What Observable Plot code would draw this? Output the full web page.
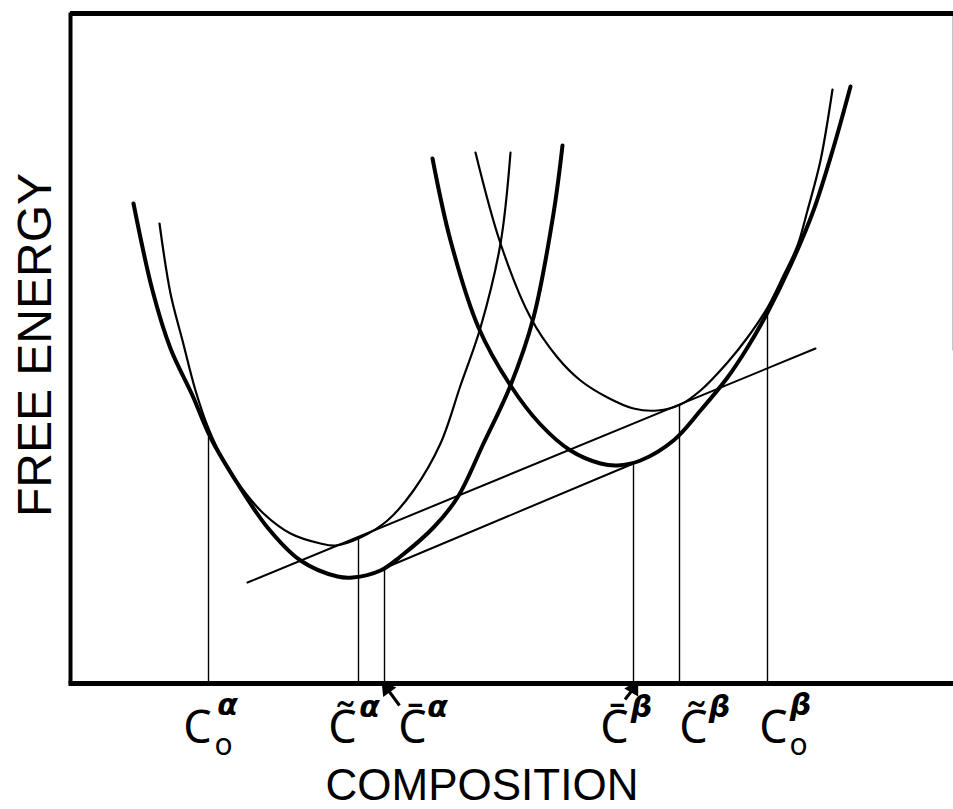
<!DOCTYPE html>
<html><head><meta charset="utf-8">
<script src="https://cdn.jsdelivr.net/npm/d3@7"></script>
<script src="https://cdn.jsdelivr.net/npm/@observablehq/plot@0.6"></script>
<style>body{margin:0;background:#fff}svg{display:block}</style>
</head><body><div id="chart"></div>
<script>
// Free-energy curves (composition, free energy in arbitrary units)
const alphaThickComp = [6.3, 8.2, 10.0, 12.2, 14.0, 16.7, 19.7, 23.0, 26.7, 28.2, 31.0, 33.0, 36.3, 38.7, 41.3, 44.0, 46.3, 48.3, 49.2];
const alphaThickG    = [48.0, 39.3, 33.5, 28.8, 24.6, 20.0, 15.6, 12.3, 10.7, 10.6, 11.3, 12.7, 15.6, 18.6, 24.0, 29.8, 36.6, 47.0, 53.8];
const alphaThinComp  = [8.9, 10.0, 11.2, 12.5, 13.8, 15.2, 17.0, 19.3, 22.0, 25.0, 26.5, 29.0, 31.7, 34.3, 37.0, 39.0, 41.0, 43.0, 44.0];
const alphaThinG     = [46.0, 39.0, 34.3, 29.3, 25.5, 22.5, 19.7, 17.0, 15.0, 14.0, 13.8, 14.6, 16.3, 19.3, 24.0, 29.8, 35.6, 44.0, 53.1];
const betaThickComp  = [36.2, 38.0, 40.8, 44.0, 47.0, 50.0, 53.0, 54.7, 57.0, 60.3, 63.0, 65.7, 67.7, 69.7, 72.0, 74.3, 76.3, 78.0];
const betaThickG     = [52.5, 44.3, 35.6, 29.8, 25.9, 23.3, 22.0, 21.8, 22.3, 24.3, 27.3, 30.6, 33.6, 37.1, 41.8, 47.3, 53.6, 59.7];
const betaThinComp   = [40.5, 43.0, 46.0, 48.7, 51.0, 53.7, 56.3, 58.7, 61.0, 63.0, 65.7, 67.7, 69.7, 71.3, 72.7, 73.7, 75.0, 76.2];
const betaThinG      = [53.1, 44.0, 36.6, 32.6, 30.3, 28.6, 27.5, 27.3, 27.9, 29.3, 32.1, 34.6, 37.6, 40.8, 43.8, 47.3, 52.3, 59.4];

// Common tangent lines
const upperTangentComp = [17.7, 74.5];
const upperTangentG    = [10.1, 33.5];
const lowerTangentComp = [31.3, 56.3];
const lowerTangentG    = [11.5, 22.0];

// Marked compositions (drop lines) and their labels
const markComp   = [13.8, 28.8, 31.4, 56.3, 60.9, 69.7];
const markG      = [24.6, 14.5, 11.5, 22.0, 27.8, 37.1];
const markLetter = ["C", "C\u0303", "C\u0304", "C\u0304", "C\u0303", "C"];
const markSub    = ["o", "", "", "", "", "o"];
const markSup    = ["α", "α", "α", "β", "β", "β"];

const compDomain = [0, 88.3];
const energyDomain = [0, 67.1];

const toPts = (cs, gs, name) => cs.map((c, i) => ({curve: name, comp: c, g: gs[i]}));
const thick = [...toPts(alphaThickComp, alphaThickG, "alpha"), ...toPts(betaThickComp, betaThickG, "beta")];
const thin = [...toPts(alphaThinComp, alphaThinG, "alpha"), ...toPts(betaThinComp, betaThinG, "beta")];
const tangents = [...toPts(upperTangentComp, upperTangentG, "upper"), ...toPts(lowerTangentComp, lowerTangentG, "lower")];
const marks = markComp.map((c, i) => ({i, comp: c, g: markG[i], main: markLetter[i], sub: markSub[i], sup: markSup[i]}));

// label layout (pixel offsets from each drop line)
const mainDx = [-11, -16, 28, -19, 14, 6];
const supDx  = [19, 11, 53, 8, 40, 33];
const subDx  = [15, 0, 0, 0, 0, 31];
const font = "Liberation Sans, Arial, sans-serif";
const common = {x: "comp", frameAnchor: "bottom", lineAnchor: "middle", textAnchor: "middle"};

const labelMarks = [];
marks.forEach((m, k) => {
  labelMarks.push(Plot.text([m], {...common, text: "main", dx: mainDx[k], dy: 45, fontSize: 45, fontFamily: "Noto Sans, sans-serif"}));
  if (m.sub) labelMarks.push(Plot.text([m], {...common, text: "sub", dx: subDx[k], dy: 62, fontSize: 30, fontFamily: "Noto Sans, sans-serif"}));
  labelMarks.push(Plot.text([m], {...common, text: "sup", dx: supDx[k], dy: m.sub ? 22 : 24, fontSize: 30, fontFamily: "DejaVu Sans, sans-serif", fontStyle: "italic", fontWeight: "bold"}));
});

// arrows pointing at the barred compositions
const arrowComp = [markComp[2], markComp[3]];
const arrowTail = [[1.5, -2.2], [-0.85, -1.6]];
const arrows = arrowComp.map((c, k) => ({x1: c + arrowTail[k][0], y1: arrowTail[k][1], x2: c + (k === 0 ? 0.25 : 0.0), y2: -0.5, rot: k === 0 ? -36 : 30}));

const frameLines = [
  {x1: compDomain[0], y1: energyDomain[0], x2: compDomain[0], y2: energyDomain[1], w: 4, c: "black"},
  {x1: compDomain[0] - 0.2, y1: energyDomain[0], x2: compDomain[1], y2: energyDomain[0], w: 5, c: "black"},
  {x1: compDomain[1] - 0.05, y1: 33.3, x2: compDomain[1] - 0.05, y2: energyDomain[1], w: 1, c: "#888"}
];

const chart = Plot.plot({
  width: 953, height: 809,
  marginLeft: 70, marginRight: 0, marginTop: 12, marginBottom: 126,
  x: {domain: compDomain, axis: null},
  y: {domain: energyDomain, axis: null},
  style: {background: "white"},
  marks: [
    Plot.ruleX(marks, {x: "comp", y1: 0, y2: "g", stroke: "black", strokeWidth: 1.4}),
    Plot.line(tangents, {x: "comp", y: "g", z: "curve", stroke: "black", strokeWidth: 2}),
    Plot.line(thin, {x: "comp", y: "g", z: "curve", stroke: "black", strokeWidth: 2.2, curve: "catmull-rom"}),
    Plot.line(thick, {x: "comp", y: "g", z: "curve", stroke: "black", strokeWidth: 4, curve: "catmull-rom"}),
    Plot.link(frameLines, {x1: "x1", y1: "y1", x2: "x2", y2: "y2", strokeWidth: "w", stroke: "c"}),
    Plot.ruleY([energyDomain[1] - 0.1], {stroke: "black", strokeWidth: 5}),
    Plot.link(arrows, {x1: "x1", y1: "y1", x2: "x2", y2: "y2", stroke: "black", strokeWidth: 3}),
    Plot.dot(arrows, {x: "x2", y: "y2", symbol: "triangle", r: 6, fill: "black", rotate: "rot"}),
    ...labelMarks,
    Plot.text(["COMPOSITION"], {frameAnchor: "bottom", lineAnchor: "middle", textAnchor: "middle", text: d => d, dx: -30, dy: 102, fontSize: 44, fontFamily: font}),
    Plot.text(["FREE ENERGY"], {frameAnchor: "left", lineAnchor: "middle", textAnchor: "middle", text: d => d, dx: -35, dy: -3, rotate: -90, fontSize: 48, fontFamily: font})
  ]
});
document.getElementById("chart").appendChild(chart);
</script>
</body></html>
